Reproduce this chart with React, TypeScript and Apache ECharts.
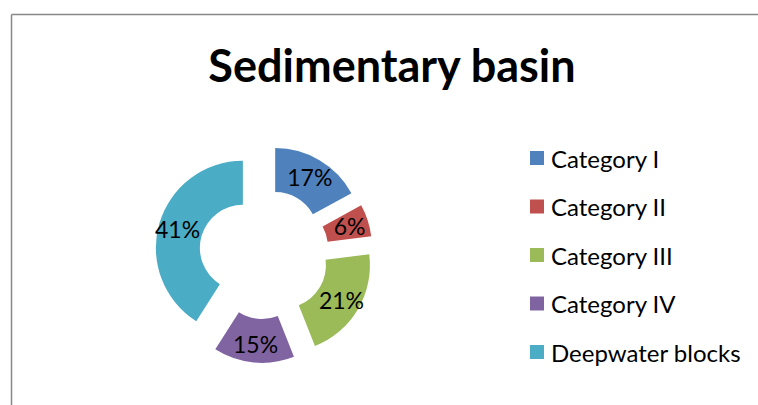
import React, { useEffect, useRef } from "react";
import * as echarts from "echarts";

const categories = ["Category I", "Category II", "Category III", "Category IV", "Deepwater blocks"];
const shares = [17, 6, 21, 15, 41];
const colors = ["#4F81BD", "#C0504D", "#9BBB59", "#8064A2", "#4BACC6"];
const titleText = "Sedimentary basin";

export default function App() {
  const ref = useRef<HTMLDivElement>(null);
  useEffect(() => {
    if (!ref.current) return;
    const chart = echarts.init(ref.current, undefined, { renderer: "svg" });
    chart.setOption({
      animation: false,
      backgroundColor: "#ffffff",
      title: {
        text: titleText,
        left: 387,
        textAlign: "center",
        top: 37,
        textStyle: { fontFamily: "Lato", fontWeight: "bold", fontSize: 45, color: "#000" },
      },
      graphic: [
        { type: "line", shape: { x1: 11.5, y1: 14.5, x2: 800, y2: 14.5 }, style: { stroke: "#888", lineWidth: 1.5 } },
        { type: "line", shape: { x1: 11.5, y1: 14.5, x2: 11.5, y2: 420 }, style: { stroke: "#888", lineWidth: 1.5 } },
      ],
      legend: {
        orient: "vertical",
        left: 525,
        top: 141,
        icon: "rect",
        itemWidth: 14,
        itemHeight: 14,
        itemGap: 24.5,
        selectedMode: false,
        textStyle: { fontFamily: "Lato", fontSize: 24, color: "#000", lineHeight: 24, padding: [0, 0, 0, 2] },
        data: categories,
      },
      series: [
        {
          type: "pie",
          center: [264, 254],
          radius: [43, 87],
          startAngle: 90,
          clockwise: true,
          selectedMode: "multiple",
          selectedOffset: 22,
          avoidLabelOverlap: false,
          label: {
            show: true,
            position: "inside",
            formatter: "{c}%",
            fontFamily: "Lato",
            fontSize: 23,
            color: "#000",
          },
          labelLine: { show: false },
          emphasis: { disabled: true },
          data: categories.map((name, i) => ({
            name,
            value: shares[i],
            selected: true,
            itemStyle: { color: colors[i] },
          })),
        },
      ],
    });
    return () => chart.dispose();
  }, []);
  return <div ref={ref} style={{ position: "fixed", left: 0, top: 0, width: 758, height: 405 }} />;
}
